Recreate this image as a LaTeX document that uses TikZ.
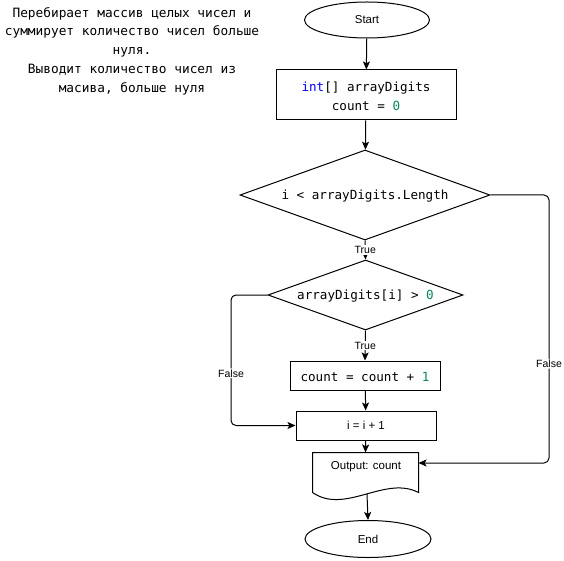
\documentclass[tikz,border=0pt]{standalone}
\usepackage{fontspec}
\setmainfont{Liberation Sans}
\setmonofont{DejaVu Sans Mono}
\usetikzlibrary{shapes.geometric,arrows.meta}
\definecolor{kwblue}{HTML}{0000FF}
\definecolor{numgreen}{HTML}{098658}
\begin{document}
\begin{tikzpicture}[x=1pt,y=-1pt,
  line width=1pt,
  >={Stealth[length=8pt,width=7pt,inset=1.8pt]},
  terminal/.style={draw,ellipse,inner sep=0pt,font=\fontsize{11.5}{13}\selectfont},
  procbox/.style={draw,rectangle,inner sep=0pt},
  decision/.style={draw,diamond,inner sep=0pt},
  codetext/.style={font=\ttfamily\fontsize{12.6}{19}\selectfont,align=center},
  plaintext/.style={font=\fontsize{11.5}{13}\selectfont},
  flow/.style={->},
  edgelabel/.style={fill=white,inner sep=1pt,font=\fontsize{10.5}{12}\selectfont}]
\useasboundingbox (0,0) rectangle (564,561);

% description
\node[font=\ttfamily\fontsize{12.8}{18.75}\selectfont,align=center] (note) at (132,51)
  {Перебирает массив целых чисел и\\суммирует количество чисел больше\\нуля.\\Выводит количество чисел из\\масива, больше нуля};

% flowchart nodes
\node[terminal,minimum width=125pt,minimum height=36pt] (start) at (367,20) {Start};
\node[procbox,minimum width=180pt,minimum height=50pt] (init) at (366,95) {};
\node[codetext] (inittxt) at (366,96.5)
  {\textcolor{kwblue}{int}[] arrayDigits\\count = \textcolor{numgreen}{0}};
\node[decision,minimum width=250pt,minimum height=90pt] (loop) at (365,195) {};
\node[codetext] (looptxt) at (365,196.5) {i < arrayDigits.Length};
\node[decision,minimum width=195pt,minimum height=70pt] (check) at (365.5,295) {};
\node[codetext] (checktxt) at (365.5,296.5) {arrayDigits[i] > \textcolor{numgreen}{0}};
\node[procbox,minimum width=150pt,minimum height=29pt] (inc) at (365,375.5) {};
\node[codetext] (inctxt) at (365,377) {count = count + \textcolor{numgreen}{1}};
\node[procbox,plaintext,minimum width=140pt,minimum height=29pt] (step) at (366,425.5) {i = i + 1};

% output document shape
\node[rectangle,inner sep=0pt,minimum width=105pt,minimum height=39pt] (out) at (365.5,472.5) {};
\draw (out.south west) -- (out.north west) -- (out.north east) -- (out.south east)
  .. controls (385,475) and (345,515) .. (out.south west);
\node[plaintext] (outtxt) at (366,467) {Output: count};
\coordinate (wave) at (367,494);

\node[terminal,minimum width=126pt,minimum height=37pt] (finish) at (368,539) {End};

% connectors
\draw[flow] (start) -- (init);
\draw[flow] (init) -- (loop);
\draw[flow] (loop.south) -- node[edgelabel] {True} (check.north);
\draw[flow] (check.south) -- node[edgelabel] {True} (inc.north);
\draw[flow] (inc) -- (step);
\coordinate (lf1) at (231,295);
\coordinate (lf2) at (231,425.5);
\draw[flow,rounded corners=5pt] (check.west) -- (lf1) -- node[edgelabel,pos=0.6] {False} (lf2) -- (step.west);
\draw[flow] (step) -- (out.north);
\coordinate (rf1) at (549,195);
\coordinate (rf2) at (549,463);
\draw[flow,rounded corners=5pt] (loop.east) -- (rf1) -- node[edgelabel,pos=0.63] {False} (rf2) -- (rf2 -| out.east);
\draw[flow] (wave) -- (finish.north);
\end{tikzpicture}
\end{document}
